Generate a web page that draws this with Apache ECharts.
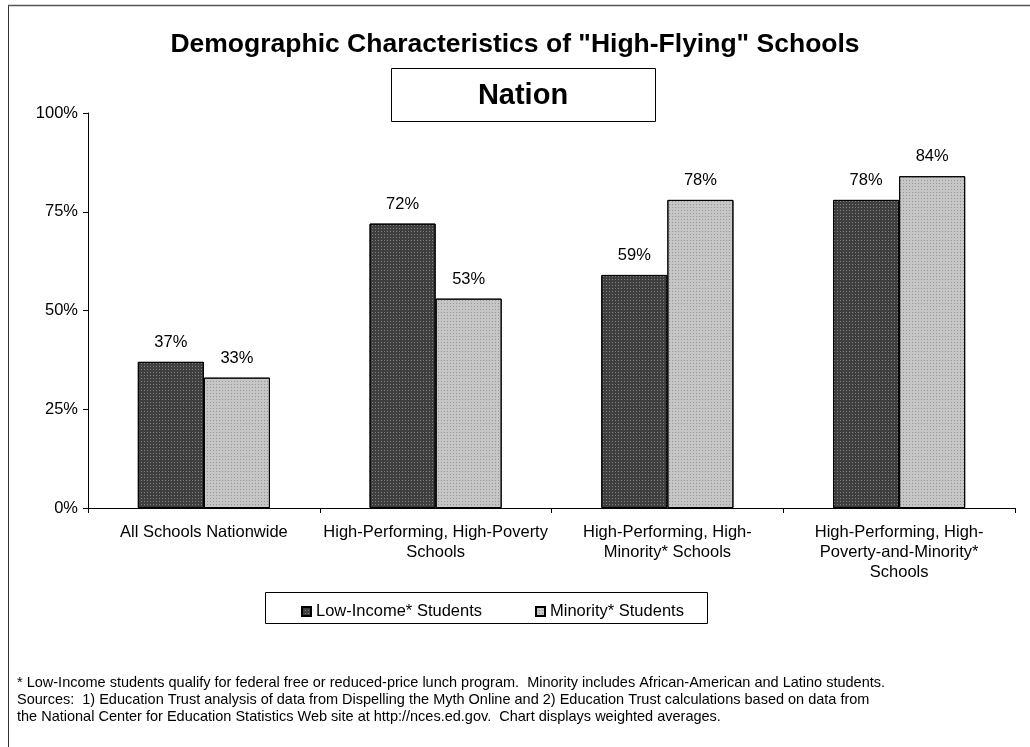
<!DOCTYPE html>
<html>
<head>
<meta charset="utf-8">
<script src="https://cdn.jsdelivr.net/npm/echarts@6/dist/echarts.min.js"></script>
<style>
html,body{margin:0;padding:0;background:#fff;}
#chart{width:1030px;height:747px;}
</style>
</head>
<body>
<div id="chart"></div>
<script>
const categories = [
  'All Schools Nationwide',
  'High-Performing, High-Poverty\nSchools',
  'High-Performing, High-\nMinority* Schools',
  'High-Performing, High-\nPoverty-and-Minority*\nSchools'
];
const lowIncome = [37, 72, 59, 78];
const minority = [33, 53, 78, 84];
const yTicks = [0, 25, 50, 75, 100];
const seriesNames = ['Low-Income* Students', 'Minority* Students'];
const footnotes = [
  '* Low-Income students qualify for federal free or reduced-price lunch program.  Minority includes African-American and Latino students.',
  'Sources:  1) Education Trust analysis of data from Dispelling the Myth Online and 2) Education Trust calculations based on data from',
  'the National Center for Education Statistics Web site at http://nces.ed.gov.  Chart displays weighted averages.'
];

const FONT = '"Liberation Sans", Arial, sans-serif';
const chart = echarts.init(document.getElementById('chart'), null, {renderer: 'canvas'});

const labelStyle = {
  show: true, position: 'top', distance: 11,
  formatter: '{c}%', color: '#000', fontSize: 16.5, fontFamily: FONT
};

chart.setOption({
  animation: false,
  backgroundColor: '#fff',
  textStyle: {fontFamily: FONT},
  title: {
    text: 'Demographic Characteristics of "High-Flying" Schools',
    left: 510, top: 26, textAlign: 'center',
    textStyle: {fontSize: 26.5, fontWeight: 'bold', color: '#000', fontFamily: FONT}
  },
  legend: {
    data: seriesNames,
    left: 296, top: 598,
    itemWidth: 9, itemHeight: 9, itemGap: 53,
    icon: 'rect',
    textStyle: {fontSize: 16.5, color: '#000', fontFamily: FONT}
  },
  grid: {left: 88, right: 15, top: 113, bottom: 239, containLabel: false},
  xAxis: {
    type: 'category',
    data: categories,
    axisLine: {lineStyle: {color: '#000', width: 1}},
    axisTick: {show: true, length: 5, lineStyle: {color: '#000'}},
    axisLabel: {fontSize: 16.5, color: '#000', fontFamily: FONT, lineHeight: 20, margin: 14, interval: 0}
  },
  yAxis: {
    type: 'value', min: 0, max: 100, interval: 25,
    axisLine: {show: true, lineStyle: {color: '#000', width: 1}},
    axisTick: {show: true, length: 5, lineStyle: {color: '#000'}},
    splitLine: {show: false},
    axisLabel: {formatter: '{value}%', fontSize: 16.5, color: '#000', fontFamily: FONT, margin: 10}
  },
  series: [
    {
      name: seriesNames[0], type: 'bar', data: lowIncome,
      barGap: '0%', barCategoryGap: '43%',
      itemStyle: {
        color: '#3f3f3f', borderColor: '#000', borderWidth: 1,
        decal: {symbol: 'rect', symbolSize: 1, color: 'rgba(255,255,255,0.35)', dashArrayX: [1, 2], dashArrayY: [1, 2]}
      },
      label: labelStyle
    },
    {
      name: seriesNames[1], type: 'bar', data: minority,
      itemStyle: {
        color: '#c6c6c6', borderColor: '#000', borderWidth: 1,
        decal: {symbol: 'rect', symbolSize: 1, color: 'rgba(60,60,60,0.35)', dashArrayX: [1, 2], dashArrayY: [1, 2]}
      },
      label: labelStyle
    }
  ],
  graphic: [
    {type: 'line', shape: {x1: 8.5, y1: 5, x2: 8.5, y2: 747}, style: {stroke: '#333', lineWidth: 1}},
    {type: 'line', shape: {x1: 8, y1: 5.5, x2: 1030, y2: 5.5}, style: {stroke: '#555', lineWidth: 1.5}},
    {type: 'rect', shape: {x: 391.5, y: 68.5, width: 264, height: 53}, style: {fill: '#fff', stroke: '#000', lineWidth: 1}},
    {type: 'text', position: [523, 96], style: {text: 'Nation', x: 0, y: 0, align: 'center', verticalAlign: 'middle', font: 'bold 29px ' + FONT, fill: '#000'}},
    {type: 'rect', shape: {x: 265.5, y: 592.5, width: 442, height: 31}, style: {fill: 'none', stroke: '#000', lineWidth: 1}, z: -1},
    {type: 'text', position: [17, 683], style: {text: footnotes[0], font: '14.5px ' + FONT, fill: '#000', verticalAlign: 'middle'}},
    {type: 'text', position: [17, 700], style: {text: footnotes[1], font: '14.5px ' + FONT, fill: '#000', verticalAlign: 'middle'}},
    {type: 'text', position: [17, 717], style: {text: footnotes[2], font: '14.5px ' + FONT, fill: '#000', verticalAlign: 'middle'}}
  ]
});
</script>
</body>
</html>
